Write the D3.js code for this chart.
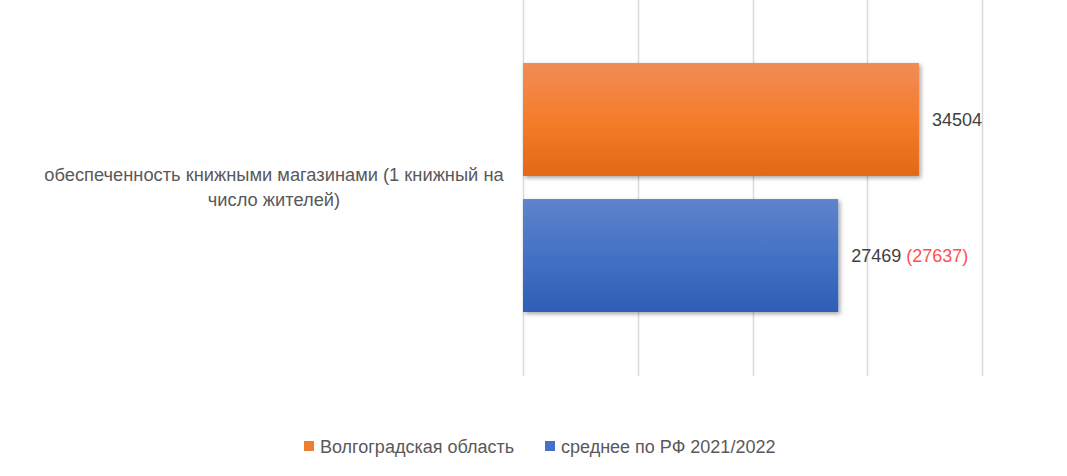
<!DOCTYPE html>
<html><head><meta charset="utf-8">
<script src="https://cdn.jsdelivr.net/npm/d3@7"></script>
<style>
body{margin:0;background:#fff;}
svg{display:block;font-family:"Liberation Sans",Arial,sans-serif;}
</style></head>
<body><div id="chart"></div>
<script>
const categories = ["обеспеченность книжными магазинами (1 книжный на|число жителей)"];
const seriesNames = ["Волгоградская область", "среднее по РФ 2021/2022"];
const valuesVolgograd = [34504];
const valuesRF = [27469];
const extraLabelsRF = ["(27637)"];
const xTicks = [0, 10000, 20000, 30000, 40000];

const W = 1067, H = 476;
const svg = d3.select("#chart").append("svg").attr("width", W).attr("height", H);
const defs = svg.append("defs");

function grad(id, c1, c2, c3){
  const g = defs.append("linearGradient").attr("id", id).attr("x1",0).attr("y1",0).attr("x2",0).attr("y2",1);
  g.append("stop").attr("offset","0%").attr("stop-color",c1);
  g.append("stop").attr("offset","50%").attr("stop-color",c2);
  g.append("stop").attr("offset","100%").attr("stop-color",c3);
}
grad("gOrange","#F18C56","#F47D2B","#E36815");
grad("gBlue","#5F83CC","#4472C4","#2E5EB6");
const f = defs.append("filter").attr("id","shadow").attr("x","-5%").attr("y","-10%").attr("width","115%").attr("height","130%");
f.append("feDropShadow").attr("dx",2).attr("dy",2).attr("stdDeviation",2).attr("flood-color","#000").attr("flood-opacity",0.35);

const x = d3.scaleLinear().domain([0, 40000]).range([523, 982]);
const y = d3.scaleBand().domain(categories).range([0, 376]).paddingInner(0).paddingOuter(0);
const ySeries = d3.scaleBand().domain(seriesNames).range([63, 312]).paddingInner(0.17);

// gridlines
svg.append("g").selectAll("line").data(xTicks).join("line")
  .attr("x1", d => Math.round(x(d)) + 0.5).attr("x2", d => Math.round(x(d)) + 0.5)
  .attr("y1", 0).attr("y2", 376)
  .attr("stroke", "#D9D9D9").attr("stroke-width", 1.5);

const series = [
  {name: seriesNames[0], values: valuesVolgograd, fill: "url(#gOrange)", legend: "#ED7D31"},
  {name: seriesNames[1], values: valuesRF, fill: "url(#gBlue)", legend: "#4472C4"}
];

series.forEach((s, si) => {
  const g = svg.append("g");
  g.selectAll("rect").data(s.values).join("rect")
    .attr("x", x(0))
    .attr("y", ySeries(s.name))
    .attr("width", d => x(d) - x(0))
    .attr("height", ySeries.bandwidth())
    .attr("fill", s.fill)
    .attr("filter", "url(#shadow)");
  const t = g.selectAll("text").data(s.values).join("text")
    .attr("x", d => x(d) + 13)
    .attr("y", ySeries(s.name) + ySeries.bandwidth()/2)
    .attr("dy", "0.35em")
    .attr("font-size", 18)
    .attr("fill", "#404040");
  t.append("tspan").text(d => d);
  if (si === 1) {
    t.append("tspan").attr("fill", "#FF5050").text((d, i) => " " + extraLabelsRF[i]);
  }
});

// category label
const catG = svg.append("g");
categories.forEach(c => {
  const lines = c.split("|");
  const cy = 187.5;
  const txt = catG.append("text").attr("x", 274).attr("text-anchor", "middle")
    .attr("font-size", 18.3).attr("fill", "#595959");
  lines.forEach((ln, i) => {
    txt.append("tspan").attr("x", 274)
      .attr("y", cy + (i - (lines.length - 1)/2) * 25)
      .attr("dy", "0.35em").text(ln);
  });
});

// legend
const legend = svg.append("g");
const legX = [304, 545];
series.forEach((s, i) => {
  legend.append("rect").attr("x", legX[i]).attr("y", 441).attr("width", 10).attr("height", 10).attr("fill", s.legend);
  legend.append("text").attr("x", legX[i] + 16).attr("y", 447).attr("dy", "0.35em")
    .attr("font-size", 18).attr("fill", "#595959").text(s.name);
});
</script>
</body></html>
